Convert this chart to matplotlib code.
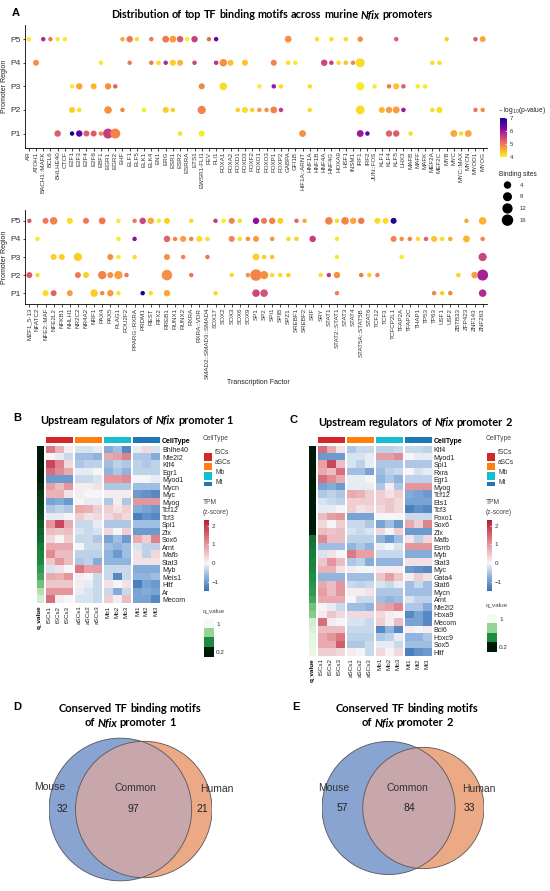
import numpy as np
import matplotlib
matplotlib.use('Agg')
import matplotlib.pyplot as plt
from matplotlib.colors import Normalize, LinearSegmentedColormap, ListedColormap
from matplotlib.cm import ScalarMappable
from matplotlib.patches import Circle

plt.rcParams['font.family'] = ['Liberation Sans', 'DejaVu Sans']
TITLE_FONT = ['Lato', 'Liberation Sans', 'DejaVu Sans']

# ---------------- panel A data: {TF: (binding sites, -log10 p)} ----------------
TOP_TFS = ["AR", "ATOH1", "BACH1::MAFK", "BCL6", "BHLHE40", "CTCF", "E2F1", "E2F3", "E2F4", "E2F6",
           "EBF1", "EGR1", "EGR2", "EHF", "ELF1", "ELF5", "ELK1", "ELK4", "EN1", "ERG", "ESR1", "ESR2",
           "ESRRA", "ETS1", "EWSR1-FLI1", "FEV", "FLI1", "FOXA1", "FOXA2", "FOXD1", "FOXD3", "FOXF2",
           "FOXO1", "FOXO3", "FOXP1", "FOXP2", "GABPA", "GFI1B", "HIF1A::ARNT", "HNF1A", "HNF1B", "HNF4A",
           "HNF4G", "HOXA9", "HSF1", "INSM1", "IRF1", "IRF2", "JUN::FOS", "KLF1", "KLF4", "KLF5", "LHX3",
           "MAFB", "MAFF", "MAFK", "MEF2A", "MEF2C", "MYB", "MYC", "MYC::MAX", "MYCN", "MYOD1", "MYOG"]

TOP_P5 = {"AR": (1, 4.1), "BACH1::MAFK": (1, 5.8), "BCL6": (1, 5.0), "BHLHE40": (1, 4.1), "CTCF": (1, 4.1),
          "EHF": (1, 4.6), "ELF1": (5, 5.0), "ELF5": (1, 4.2), "ELK4": (1, 5.0), "ERG": (6, 5.0),
          "ESR1": (6, 4.7), "ESR2": (5, 5.3), "ESRRA": (1, 4.1), "ETS1": (5, 5.6), "FEV": (1, 5.1),
          "FLI1": (1, 6.4), "GABPA": (6, 4.8), "HNF1B": (1, 4.2), "HNF4G": (1, 4.2), "HSF1": (1, 4.2),
          "IRF1": (3, 4.8), "KLF5": (1, 5.3), "MYB": (1, 4.3), "MYOD1": (1, 5.3), "MYOG": (4, 4.6)}
TOP_P4 = {"ATOH1": (4, 4.8), "EBF1": (1, 4.1), "ELF1": (1, 5.0), "ELK4": (1, 5.0), "EN1": (1, 4.2),
          "ERG": (1, 5.8), "ESR1": (4, 4.3), "ESR2": (4, 4.5), "ETS1": (1, 5.5), "FLI1": (1, 5.7),
          "FOXA1": (8, 4.8), "FOXA2": (4, 4.4), "FOXD3": (4, 4.4), "FOXP1": (4, 4.9), "GABPA": (1, 4.2),
          "GFI1B": (1, 4.1), "HNF4A": (5, 5.5), "HNF4G": (1, 5.6), "HOXA9": (1, 4.2), "HSF1": (1, 4.4),
          "INSM1": (1, 4.9), "IRF1": (12, 4.2), "MEF2A": (1, 4.2), "MEF2C": (1, 4.2)}
TOP_P3 = {"E2F1": (1, 4.1), "E2F3": (5, 4.6), "E2F6": (4, 4.5), "EGR1": (5, 4.8), "EGR2": (1, 5.2),
          "EWSR1-FLI1": (4, 4.9), "FOXA1": (8, 4.2), "FOXO1": (1, 4.1), "FOXP1": (1, 6.0), "FOXP2": (1, 4.2),
          "HNF1A": (1, 4.2), "IRF1": (10, 4.1), "JUN::FOS": (1, 4.1), "KLF4": (1, 5.0), "KLF5": (4, 4.4),
          "LHX3": (1, 5.3), "MAFF": (1, 4.1), "MAFK": (1, 4.1)}
TOP_P2 = {"E2F1": (4, 4.3), "E2F3": (1, 4.2), "EGR1": (8, 4.8), "EHF": (1, 4.9), "ELK1": (1, 4.1),
          "ERG": (4, 4.3), "ESR1": (1, 4.3), "EWSR1-FLI1": (10, 4.9), "FOXD1": (1, 4.3), "FOXD3": (4, 4.2),
          "FOXF2": (1, 4.3), "FOXO1": (1, 4.7), "FOXO3": (1, 4.8), "FOXP1": (6, 4.9), "FOXP2": (1, 5.6),
          "HNF1A": (1, 4.2), "IRF1": (12, 4.2), "KLF1": (4, 4.5), "KLF4": (5, 4.7), "KLF5": (6, 4.7),
          "LHX3": (1, 6.0), "MEF2A": (1, 4.2), "MEF2C": (4, 4.2), "MYOD1": (1, 5.0), "MYOG": (1, 4.8)}
TOP_P1 = {"BHLHE40": (5, 5.3), "E2F1": (1, 7.0), "E2F3": (5, 6.5), "E2F4": (4, 5.3), "E2F6": (4, 5.3),
          "EBF1": (1, 4.9), "EGR1": (16, 5.6), "EGR2": (16, 4.9), "ESR2": (1, 4.2), "EWSR1-FLI1": (4, 4.1),
          "HIF1A::ARNT": (6, 4.8), "IRF1": (6, 6.0), "IRF2": (1, 6.4), "KLF4": (5, 5.2), "KLF5": (5, 5.3),
          "MAFB": (1, 4.2), "MYC": (6, 4.6), "MYC::MAX": (1, 4.2), "MYCN": (6, 4.6)}

BOT_TFS = ["MZF1_5-13", "NFATC2", "NFE2::MAF", "NFE2L2", "NFKB1", "NHLH1", "NR2C2", "NR4A2", "NRF1",
           "PAX4", "PAX5", "PLAG1", "POU2F2", "PPARG::RXRA", "PRDM1", "REST", "RFX2", "RREB1", "RUNX1",
           "RUNX2", "RXRA", "RXRA::VDR", "SMAD2::SMAD3::SMAD4", "SOX17", "SOX2", "SOX3", "SOX6", "SOX9",
           "SP1", "SP2", "SPI1", "SPIB", "SPZ1", "SREBF1", "SREBF2", "SRF", "SRY", "STAT1", "STAT2::STAT1",
           "STAT3", "STAT4", "STAT5A::STAT5B", "STAT6", "TCF12", "TCF3", "TCFCP2L1", "TFAP2A", "TFAP2C",
           "THAP1", "TP53", "TP63", "USF1", "USF2", "ZBTB33", "ZFP423", "ZNF143", "ZNF263"]

BOT_P5 = {"MZF1_5-13": (1, 5.3), "NFE2::MAF": (4, 5.0), "NFE2L2": (8, 4.9), "NHLH1": (4, 4.2),
          "NR4A2": (4, 5.0), "PAX4": (6, 5.0), "PLAG1": (1, 4.1), "PPARG::RXRA": (1, 5.0), "PRDM1": (5, 5.5),
          "REST": (5, 4.6), "RFX2": (1, 4.1), "RREB1": (4, 4.3), "RXRA": (1, 4.2), "SOX17": (1, 5.6),
          "SOX2": (1, 4.1), "SOX3": (4, 4.9), "SOX6": (1, 4.2), "SP1": (5, 6.1), "SP2": (4, 5.0),
          "SPI1": (5, 4.9), "SPIB": (4, 4.3), "SREBF1": (1, 5.2), "SREBF2": (1, 4.6), "STAT1": (8, 4.9),
          "STAT2::STAT1": (1, 4.2), "STAT3": (8, 4.9), "STAT4": (5, 4.6), "STAT5A::STAT5B": (5, 5.0),
          "TCF12": (4, 4.2), "TCF3": (4, 4.2), "TCFCP2L1": (4, 6.9), "ZFP423": (1, 4.6), "ZNF263": (8, 4.5)}
BOT_P4 = {"NFATC2": (1, 4.1), "PLAG1": (1, 4.1), "PPARG::RXRA": (1, 6.1), "RREB1": (5, 5.2), "RUNX1": (1, 4.9),
          "RUNX2": (4, 4.7), "RXRA": (1, 4.9), "RXRA::VDR": (4, 4.2), "SMAD2::SMAD3::SMAD4": (1, 4.2),
          "SOX3": (4, 4.9), "SOX6": (1, 4.2), "SOX9": (1, 4.8), "SP1": (4, 4.7), "SPI1": (1, 4.8),
          "SPZ1": (1, 4.2), "SREBF1": (1, 4.3), "SRF": (5, 5.6), "STAT2::STAT1": (1, 4.1),
          "TCFCP2L1": (4, 4.9), "TFAP2A": (1, 4.8), "TFAP2C": (1, 4.9), "THAP1": (1, 4.2), "TP53": (1, 5.2),
          "TP63": (4, 4.4), "USF1": (1, 4.2), "USF2": (1, 4.6), "ZFP423": (6, 4.5), "ZNF263": (1, 4.9)}
BOT_P3 = {"NFE2L2": (4, 4.3), "NFKB1": (4, 4.3), "NR2C2": (10, 4.3), "PAX5": (4, 4.8), "PLAG1": (1, 4.1),
          "PPARG::RXRA": (1, 4.2), "RREB1": (4, 4.8), "RUNX2": (1, 4.9), "SMAD2::SMAD3::SMAD4": (1, 5.0),
          "SP1": (6, 4.3), "SP2": (1, 4.3), "SPI1": (1, 4.4), "STAT2::STAT1": (1, 4.1), "TFAP2A": (1, 4.1),
          "ZNF263": (10, 5.5)}
BOT_P2 = {"MZF1_5-13": (4, 5.3), "NFATC2": (1, 4.2), "NR2C2": (4, 5.0), "NR4A2": (4, 4.3), "PAX4": (10, 4.9),
          "PAX5": (4, 4.8), "PLAG1": (10, 4.7), "POU2F2": (1, 5.0), "RREB1": (18, 4.8), "RXRA": (1, 5.0),
          "SOX3": (1, 4.2), "SOX9": (1, 4.8), "SP1": (22, 4.9), "SP2": (10, 4.8), "SPI1": (1, 4.2),
          "SPIB": (1, 4.2), "SPZ1": (1, 4.3), "SRY": (1, 4.2), "STAT1": (1, 5.6), "STAT2::STAT1": (5, 4.8),
          "STAT5A::STAT5B": (1, 5.0), "STAT6": (1, 4.3), "TCF12": (1, 4.9), "ZBTB33": (1, 4.3),
          "ZNF143": (5, 4.7), "ZNF263": (20, 5.9)}
BOT_P1 = {"NFE2::MAF": (4, 4.2), "NFE2L2": (4, 5.2), "NHLH1": (4, 4.7), "NRF1": (8, 4.3), "PAX4": (1, 4.9),
          "PAX5": (5, 4.7), "PLAG1": (1, 4.1), "PRDM1": (1, 7.0), "REST": (1, 4.2), "RREB1": (5, 4.6),
          "SOX17": (1, 4.2), "SP1": (8, 5.5), "SP2": (8, 5.4), "STAT2::STAT1": (1, 4.9), "TP63": (1, 4.9),
          "USF1": (1, 4.3), "USF2": (1, 4.9), "ZNF263": (8, 5.8)}

PROMOTERS = ["P1", "P2", "P3", "P4", "P5"]
SITE_LEGEND = [4, 8, 12, 16]
P_TICKS = [4, 5, 6, 7]

# ---------------- panels B / C data ----------------
SAMPLES = ["fSCs1", "fSCs2", "fSCs3", "aSCs1", "aSCs2", "aSCs3", "Mb1", "Mb2", "Mb3", "Mt1", "Mt2", "Mt3"]
CELLTYPES = ["fSCs", "aSCs", "Mb", "Mt"]
CT_COLORS = ["#d62728", "#ff7f0e", "#17becf", "#1f77b4"]

B_ROWS = ["Bhlhe40", "Nfe2l2", "Klf4", "Egr1", "Myod1", "Mycn", "Myc", "Myog", "Tcf12", "Tcf3", "Spi1",
          "Zfx", "Sox6", "Arnt", "Mafb", "Stat3", "Myb", "Meis1", "Hltf", "Ar", "Mecom"]
B_Z = [[1.3, 0.7, 0.1, -0.2, -0.2, -0.1, -0.8, -0.6, -1.2, -0.1, 0.3, -0.2],
       [0.0, -0.1, -0.3, -0.6, -0.6, -0.7, 0.8, 0.9, 1.2, -0.5, -0.5, -0.8],
       [1.8, 1.2, 0.3, -0.5, -0.4, -0.4, -0.6, -0.4, -0.5, -0.4, -0.5, -0.4],
       [1.4, 1.1, 0.8, -0.1, -0.1, 0.0, -0.7, -0.5, -0.7, -0.4, -0.4, -0.4],
       [-1.0, -1.0, -1.0, -0.3, -0.3, -0.2, 1.0, 1.0, 1.1, 0.0, 0.0, -0.1],
       [0.9, 0.6, 1.0, 0.1, 0.1, 0.2, -0.5, -0.5, -0.5, -0.6, -0.6, -0.6],
       [0.7, 0.7, 0.2, 0.1, 0.0, 0.0, 0.1, 0.1, 0.1, -1.0, -1.1, -1.2],
       [-0.9, -0.8, -1.0, 0.0, -0.1, -0.1, -0.5, 0.1, -0.5, 1.0, 1.0, 1.0],
       [-0.5, -0.4, -0.5, 0.8, 0.7, 0.4, 0.4, 0.2, 0.4, -0.8, -0.9, -1.0],
       [-0.1, -0.1, 0.0, 0.4, 0.2, 0.3, 0.3, 0.5, 0.3, -1.3, -1.1, -1.2],
       [1.0, 1.8, 0.8, -0.3, -0.3, -0.1, -0.5, -0.5, -0.5, -0.6, -0.6, -0.6],
       [0.6, 0.5, 0.6, -0.2, -0.3, -0.2, 0.3, 0.0, 0.4, -1.0, -1.0, -1.0],
       [0.3, 0.0, 0.4, -0.3, -0.3, -0.5, -0.9, -0.6, -1.0, 0.8, 0.4, 1.2],
       [0.8, 0.8, 0.8, 0.0, -0.3, -0.3, -0.6, -0.7, -0.6, -0.2, -0.4, -0.4],
       [1.1, 0.6, 0.6, -0.4, -0.4, -0.4, -0.7, -1.0, -0.6, 0.2, -0.4, 0.3],
       [0.5, 1.0, 0.6, -0.5, -0.4, -0.8, -0.7, -0.7, -0.7, 0.2, 0.2, 0.2],
       [-0.2, 0.2, 0.0, 1.3, 0.9, 0.9, -0.3, -0.3, -0.3, -0.8, -0.8, -0.8],
       [0.8, 0.7, 1.0, 0.1, 0.0, -0.3, -0.3, -1.2, -0.3, -0.7, -0.7, -0.6],
       [0.5, 0.5, 0.5, 0.1, -0.1, -0.3, 0.2, 0.0, 0.2, -1.3, -0.9, -1.0],
       [1.0, 1.0, 1.0, -0.1, -0.2, -0.3, -0.3, -0.8, -0.3, -0.9, -0.8, -0.9],
       [1.4, 0.1, 0.0, -0.2, -0.2, -0.3, 0.4, 0.1, 0.6, -0.9, -0.9, -1.2]]
B_Q = [0.12, 0.14, 0.16, 0.18, 0.2, 0.24, 0.27, 0.29, 0.3, 0.31, 0.35, 0.37, 0.39, 0.43, 0.45, 0.47,
       0.52, 0.56, 0.66, 0.82, 0.9]

C_ROWS = ["Klf4", "Myod1", "Spi1", "Rxra", "Egr1", "Myog", "Tcf12", "Ets1", "Tcf3", "Foxo1", "Sox6", "Zfx",
          "Mafb", "Esrrb", "Myb", "Stat3", "Myc", "Gata4", "Stat6", "Mycn", "Arnt", "Nfe2l2", "Hoxa9",
          "Mecom", "Bcl6", "Hoxc9", "Sox5", "Hltf"]
C_Z = [[1.4, 0.8, 0.2, -0.5, -0.3, -0.3, -0.4, -0.4, -0.3, -0.3, -0.3, -0.4],
       [-1.0, -1.0, -1.0, -0.2, -0.2, -0.1, 0.9, 0.9, 1.1, 0.0, -0.1, -0.1],
       [0.9, 1.8, 0.6, -0.2, -0.4, -0.1, -0.5, -0.5, -0.5, -0.5, -0.5, -0.5],
       [0.8, 0.6, 1.4, -0.6, -0.6, -0.9, -0.6, -0.4, -0.3, 0.0, -0.2, -0.1],
       [1.4, 1.1, 0.8, -0.1, -0.1, 0.0, -0.7, -0.5, -0.7, -0.4, -0.4, -0.4],
       [-0.9, -0.8, -1.0, -0.1, -0.1, -0.1, -0.5, 0.1, -0.5, 1.0, 1.0, 1.0],
       [-0.5, -0.4, -0.5, 0.8, 0.7, 0.4, 0.4, 0.2, 0.4, -0.8, -0.9, -1.0],
       [-0.2, -0.3, -0.4, 0.4, 0.4, 0.4, 0.4, 0.5, 0.3, -0.9, -0.9, -0.9],
       [-0.1, -0.1, 0.0, 0.4, 0.2, 0.3, 0.3, 0.5, 0.3, -1.3, -1.1, -1.2],
       [0.6, 0.9, 1.0, -0.9, -0.9, -0.9, 0.0, 0.0, 0.0, -0.3, -0.3, -0.3],
       [0.3, 0.0, 0.4, -0.3, -0.3, -0.5, -0.9, -0.6, -1.0, 0.8, 0.4, 1.2],
       [0.6, 0.5, 0.6, -0.2, -0.3, -0.2, 0.3, 0.0, 0.4, -1.0, -1.0, -1.0],
       [1.1, 0.6, 0.6, -0.4, -0.4, -0.4, -0.7, -1.0, -0.6, 0.2, -0.4, 0.3],
       [-0.6, -0.6, -0.6, -0.7, -0.5, -0.7, -0.1, 0.0, -0.2, 1.0, 1.0, 1.0],
       [-0.2, 0.2, 0.0, 1.3, 0.9, 0.9, -0.3, -0.3, -0.3, -0.8, -0.8, -0.8],
       [0.5, 1.0, 0.6, -0.5, -0.4, -0.8, -0.7, -0.7, -0.7, 0.2, 0.2, 0.2],
       [0.7, 0.7, 0.2, 0.1, 0.0, 0.0, 0.1, 0.1, 0.1, -1.0, -1.1, -1.2],
       [-0.7, -0.7, -0.7, -0.6, -0.6, -0.6, 0.5, 0.9, 0.5, 0.1, 0.4, 0.2],
       [0.8, 0.6, 1.0, -0.3, -0.4, -0.3, -0.2, -0.3, -0.1, -0.6, -0.3, -0.6],
       [0.9, 0.6, 1.0, 0.1, 0.1, 0.2, -0.5, -0.5, -0.5, -0.6, -0.6, -0.6],
       [0.8, 0.8, 0.8, 0.0, -0.3, -0.3, -0.6, -0.7, -0.6, -0.2, -0.4, -0.4],
       [0.0, -0.1, -0.3, -0.6, -0.6, -0.7, 0.8, 0.9, 1.2, -0.5, -0.5, -0.8],
       [0.1, 0.5, 0.3, 0.3, 0.3, 0.3, 0.3, 0.1, 0.0, -1.2, -0.9, -1.2],
       [1.4, 0.1, 0.0, -0.2, -0.2, -0.3, 0.4, 0.1, 0.6, -0.9, -0.9, -1.2],
       [0.6, 0.6, 0.6, -0.3, -0.3, -0.3, -1.2, -0.7, -1.2, 0.1, 0.0, 0.1],
       [0.8, 1.0, 1.3, -0.4, -0.4, -0.4, -0.5, -0.4, -0.1, -0.7, -0.7, -0.5],
       [0.8, 0.8, 1.6, -0.5, -0.5, -0.3, -0.1, -0.1, -0.3, -0.6, -0.6, -0.6],
       [0.4, 0.4, 0.3, 0.1, 0.0, -0.3, 0.3, 0.0, 0.3, -1.3, -1.1, -1.0]]
C_Q = [0.1, 0.11, 0.12, 0.13, 0.14, 0.15, 0.16, 0.17, 0.18, 0.19, 0.2, 0.21, 0.4, 0.42, 0.44, 0.45,
       0.46, 0.48, 0.5, 0.52, 0.56, 0.66, 0.7, 0.9, 0.93, 0.95, 0.96, 0.97]
Q_LEGEND = [1.0, 0.733, 0.467, 0.2]

# ---------------- panels D / E data ----------------
VENN_D = {"Mouse": 32, "Common": 97, "Human": 21}
VENN_E = {"Mouse": 57, "Common": 84, "Human": 33}

# ---------------- helpers ----------------
W, H = 550, 891
fig = plt.figure(figsize=(W / 100, H / 100), dpi=100)
fig.patch.set_facecolor('white')
renderer = fig.canvas.get_renderer()


def ax_px(x0, y0, x1, y1):
    return fig.add_axes([x0 / W, 1 - y1 / H, (x1 - x0) / W, (y1 - y0) / H])


def txt(x, y, s, **kw):
    kw.setdefault('va', 'center')
    return fig.text(x / W, 1 - y / H, s, **kw)


def text_width(s, size, style='normal'):
    t = fig.text(0, 0, s, fontsize=size, fontweight='bold', fontstyle=style, family=TITLE_FONT)
    w = t.get_window_extent(renderer).width
    t.remove()
    return w


def line_width(parts, size, gap_scale):
    gap = (text_width("x x", size) - text_width("xx", size)) * gap_scale
    ws = [text_width(s, size, st) for s, st in parts]
    return ws, gap, sum(ws) + gap * (len(ws) - 1)


def fit_size(parts, size, target, gap_scale=1.0):
    total = line_width(parts, size, gap_scale)[2]
    return size * target / total


def rich(x, y, parts, size, gap_scale=1.0):
    """Centered bold title made of (word, style) pieces."""
    ws, gap, total = line_width(parts, size, gap_scale)
    start = x - total / 2
    for (s, st), w in zip(parts, ws):
        txt(start, y, s, fontsize=size, fontweight='bold', fontstyle=st, ha='left', family=TITLE_FONT)
        start += w + gap


pcmap = plt.get_cmap('plasma_r')
pnorm = Normalize(4, 7)


def dot_size(n):
    return 7.6 + 2.76 * np.asarray(n, dtype=float)


def dot_panel(rect, tfs, rows, ylab_y):
    ax = ax_px(*rect)
    xs, ys, ns, ps = [], [], [], []
    for yi, row in enumerate(rows):
        for tf, (n, p) in row.items():
            xs.append(tfs.index(tf)); ys.append(yi); ns.append(n); ps.append(p)
    order = np.argsort(ns)[::-1]
    ax.scatter(np.array(xs)[order], np.array(ys)[order], s=dot_size(np.array(ns)[order]),
               c=np.array(ps)[order], cmap=pcmap, norm=pnorm, linewidths=0, zorder=3)
    ax.set_xlim(-0.6, len(tfs) - 0.4)
    ax.set_ylim(-0.6, 4.6)
    ax.set_xticks(range(len(tfs)))
    ax.set_xticklabels(tfs, rotation=90, fontsize=4.5, color='#333333')
    ax.set_yticks(range(5))
    ax.set_yticklabels(PROMOTERS, fontsize=6, color='#333333')
    for s in ['top', 'right']:
        ax.spines[s].set_visible(False)
    for s in ['left', 'bottom']:
        ax.spines[s].set_linewidth(0.6)
    ax.tick_params(length=1.8, width=0.5, pad=1)
    txt(5, ylab_y, 'Promoter Region', rotation=90, ha='center', fontsize=5, color='#222222')
    return ax


# ---------------- panel A ----------------
txt(12, 13, 'A', fontsize=8, fontweight='bold')
title_a = [("Distribution", 'normal'), ("of", 'normal'), ("top", 'normal'), ("TF", 'normal'),
           ("binding", 'normal'), ("motifs", 'normal'), ("across", 'normal'), ("murine", 'normal'),
           ("Nfix", 'italic'), ("promoters", 'normal')]
rich(272, 15, title_a, fit_size(title_a, 7, 321))

dot_panel((24.5, 25, 487, 147.7), TOP_TFS, [TOP_P1, TOP_P2, TOP_P3, TOP_P4, TOP_P5], 86)
dot_panel((24.5, 210, 487.5, 304), BOT_TFS, [BOT_P1, BOT_P2, BOT_P3, BOT_P4, BOT_P5], 257)
txt(258, 382, 'Transcription Factor', ha='center', fontsize=5, color='#222222')

# p-value colourbar
txt(498, 110, r'– log$_{10}$(p-value)', fontsize=4.8, color='#222222')
cax = ax_px(500, 118, 507, 157)
cb = fig.colorbar(ScalarMappable(norm=pnorm, cmap=pcmap), cax=cax, ticks=P_TICKS)
cb.outline.set_visible(False)
cax.tick_params(labelsize=4.3, length=1.5, width=0.5, color='white', direction='in', pad=2, labelcolor='#333333')

# binding sites legend
txt(499, 174, 'Binding sites', fontsize=4.8, color='#222222')
lax = ax_px(500, 178, 545, 226)
lax.scatter(np.zeros(len(SITE_LEGEND)), range(len(SITE_LEGEND)), s=dot_size(SITE_LEGEND), color='black')
lax.set_xlim(-1, 5)
lax.set_ylim(len(SITE_LEGEND) - 0.5, -0.6)
for i, v in enumerate(SITE_LEGEND):
    lax.text(1.6, i, str(v), fontsize=4.3, va='center', color='#333333')
lax.axis('off')

# ---------------- panels B / C ----------------
tpm_cmap = LinearSegmentedColormap.from_list(
    'tpm', [(0, '#3470b5'), (0.2, '#8cb2dc'), (0.395, '#f6f6f8'), (0.66, '#e5959c'), (1, '#b71c33')])
tpm_norm = Normalize(-1.5, 2.3)
q_cmap = LinearSegmentedColormap.from_list(
    'q', [(0, '#001a0a'), (0.333, '#1c8a40'), (0.667, '#98d494'), (1, '#f5fbf2')])
q_norm = Normalize(0.2, 1.0)
ct_cmap = ListedColormap(CT_COLORS)
RH = 7.5
Y0 = 446


def clean(ax):
    for s in ax.spines.values():
        s.set_visible(False)
    ax.tick_params(length=0, pad=1.5)


def heatmap(qx, groups, z, q, rows):
    z = np.array(z)
    y1 = Y0 + len(rows) * RH
    qax = ax_px(qx[0], Y0, qx[1], y1)
    qax.imshow(np.array(q)[:, None], cmap=q_cmap, norm=q_norm, aspect='auto', interpolation='nearest')
    qax.set_xticks([0])
    qax.set_xticklabels(['q_value'], rotation=90, fontsize=4.6, fontweight='bold')
    qax.set_yticks([])
    clean(qax)
    for g, (gx0, gx1) in enumerate(groups):
        ax = ax_px(gx0, Y0, gx1, y1)
        ax.imshow(z[:, 3 * g:3 * g + 3], cmap=tpm_cmap, norm=tpm_norm, aspect='auto', interpolation='nearest')
        ax.set_xticks(range(3))
        ax.set_xticklabels(SAMPLES[3 * g:3 * g + 3], rotation=90, fontsize=4.5, color='#222222')
        ax.set_yticks([])
        clean(ax)
        aax = ax_px(gx0, 437, gx1, 443.5)
        aax.imshow([[g, g, g]], cmap=ct_cmap, vmin=-0.5, vmax=3.5, aspect='auto')
        aax.set_xticks([]); aax.set_yticks([])
        clean(aax)
    ax.yaxis.tick_right()
    ax.set_yticks(range(len(rows)))
    ax.set_yticklabels(rows, fontsize=5, color='#222222')
    aax.yaxis.tick_right()
    aax.set_yticks([0])
    aax.set_yticklabels(['CellType'], fontsize=5, fontweight='bold')


def hm_legends(lx, qy):
    txt(lx, 439, 'CellType', fontsize=4.8, color='#444444')
    cax = ax_px(lx, 447, lx + 10, 486)
    cax.pcolormesh(np.arange(4)[:, None], cmap=ct_cmap, vmin=-0.5, vmax=3.5, edgecolors='white', linewidth=1.2)
    cax.set_ylim(3.5, -0.5)
    cax.yaxis.tick_right()
    cax.set_yticks(np.arange(4))
    cax.set_yticklabels(CELLTYPES, fontsize=4.8, color='#333333')
    cax.set_xticks([])
    clean(cax)
    txt(lx, 503, 'TPM', fontsize=4.8, color='#444444')
    txt(lx, 513, '(z-score)', fontsize=4.8, color='#444444')
    tax = ax_px(lx + 1, 520, lx + 6, 591)
    tcb = fig.colorbar(ScalarMappable(norm=tpm_norm, cmap=tpm_cmap), cax=tax, ticks=[-1, 0, 1, 2])
    tcb.outline.set_visible(False)
    tax.tick_params(labelsize=4.5, length=1.5, width=0.5, color='white', direction='in', pad=2,
                    labelcolor='#333333')
    txt(lx, qy, 'q_value', fontsize=4.6, color='#444444')
    qax = ax_px(lx + 1, qy + 8, lx + 11, qy + 46)
    qax.imshow(np.array(Q_LEGEND)[:, None], cmap=q_cmap, norm=q_norm, aspect='auto')
    qax.yaxis.tick_right()
    qax.set_yticks([0, 3])
    qax.set_yticklabels(['1', '0.2'], fontsize=4.6, color='#333333')
    qax.set_xticks([])
    clean(qax)


title_b = [("Upstream", 'normal'), ("regulators", 'normal'), ("of", 'normal'), ("Nfix", 'italic'),
           ("promoter", 'normal'), ("1", 'normal')]
title_c = title_b[:-1] + [("2", 'normal')]
hm_size = fit_size(title_b, 7, 197)

txt(13, 418, 'B', fontsize=8, fontweight='bold')
rich(136.5, 421, title_b, hm_size)
heatmap((36.5, 42.7), [(45.5, 72.3), (75, 101.7), (104, 130.7), (133, 160)], B_Z, B_Q, B_ROWS)
hm_legends(203, 611)

txt(289, 420, 'C', fontsize=8, fontweight='bold')
rich(415, 422, title_c, hm_size)
heatmap((309.3, 315.7), [(317.5, 344.3), (347, 373.7), (376, 402.7), (405, 431.7)], C_Z, C_Q, C_ROWS)
hm_legends(486, 606)

# ---------------- panels D / E (area-proportional Venn) ----------------
MOUSE_C, HUMAN_C, BOTH_C = '#8aa4d1', '#eca986', '#c7a7ac'


def lens_area(r1, r2, d):
    a1 = r1 ** 2 * np.arccos((d ** 2 + r1 ** 2 - r2 ** 2) / (2 * d * r1))
    a2 = r2 ** 2 * np.arccos((d ** 2 + r2 ** 2 - r1 ** 2) / (2 * d * r2))
    a3 = 0.5 * np.sqrt((-d + r1 + r2) * (d + r1 - r2) * (d - r1 + r2) * (d + r1 + r2))
    return a1 + a2 - a3


def venn(x0, x1, yc, counts, labels_px):
    a, both, b = counts["Mouse"], counts["Common"], counts["Human"]
    r1, r2 = np.sqrt((a + both) / np.pi), np.sqrt((b + both) / np.pi)
    lo, hi = abs(r1 - r2) + 1e-9, r1 + r2
    for _ in range(80):
        mid = (lo + hi) / 2
        if lens_area(r1, r2, mid) > both:
            lo = mid
        else:
            hi = mid
    d = (lo + hi) / 2
    ax = ax_px(x0, yc - 85, x1, yc + 85)
    ppu = (x1 - x0) / (r1 + d + r2)
    ax.set_xlim(-r1, d + r2)
    ax.set_ylim(-85 / ppu, 85 / ppu)
    c1 = Circle((0, 0), r1, fc=MOUSE_C, ec='none')
    c2 = Circle((d, 0), r2, fc=HUMAN_C, ec='none')
    ax.add_patch(c1); ax.add_patch(c2)
    c3 = Circle((d, 0), r2, fc=BOTH_C, ec='none')
    ax.add_patch(c3); c3.set_clip_path(c1)
    ax.add_patch(Circle((0, 0), r1, fill=False, ec='#555555', lw=0.6))
    ax.add_patch(Circle((d, 0), r2, fill=False, ec='#555555', lw=0.6))
    ax.text((-r1 + d - r2) / 2, 0, str(a), ha='center', va='center', fontsize=7.5, color='#222222')
    ax.text((d - r2 + r1) / 2, 0, str(both), ha='center', va='center', fontsize=7.5, color='#222222')
    ax.text((r1 + d + r2) / 2, 0, str(b), ha='center', va='center', fontsize=7.5, color='#222222')
    ax.axis('off')
    for name, (lx, ly) in zip(["Mouse", "Common", "Human"], labels_px):
        txt(lx, ly, name, ha='center', fontsize=7.5, color='#333333')


venn_l1 = [("Conserved", 'normal'), ("TF", 'normal'), ("binding", 'normal'), ("motifs", 'normal')]
venn_size = fit_size(venn_l1, 7, 144)

txt(13, 707, 'D', fontsize=8, fontweight='bold')
rich(130, 709, venn_l1, venn_size)
rich(130, 723, [("of", 'normal'), ("Nfix", 'italic'), ("promoter", 'normal'), ("1", 'normal')], venn_size)
venn(49, 212, 809.5, VENN_D, [(50, 787), (135, 788), (217, 789)])

txt(292, 707, 'E', fontsize=8, fontweight='bold')
rich(407, 709, venn_l1, venn_size)
rich(407, 723, [("of", 'normal'), ("Nfix", 'italic'), ("promoter", 'normal'), ("2", 'normal')], venn_size)
venn(322, 484, 808, VENN_E, [(334, 788), (407, 788), (479, 789)])

fig.savefig('out.png', dpi=100)
